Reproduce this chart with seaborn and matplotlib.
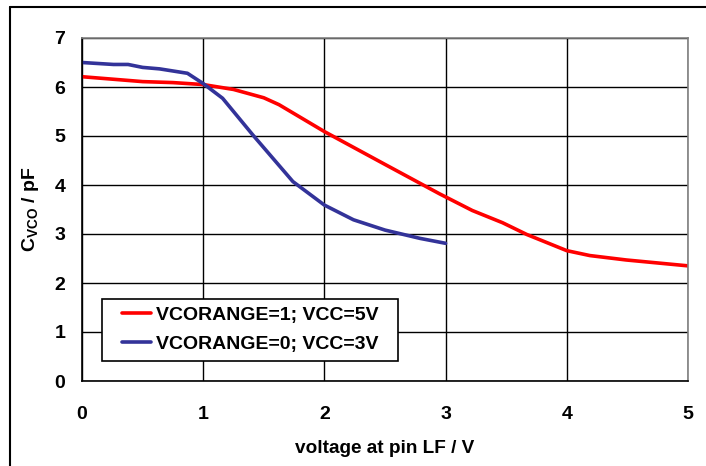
import matplotlib
matplotlib.use("Agg")
import matplotlib.pyplot as plt
from matplotlib.lines import Line2D
from matplotlib.legend_handler import HandlerLine2D
import seaborn as sns
import pandas as pd

# ---- data ----
red_label = "VCORANGE=1; VCC=5V"
blue_label = "VCORANGE=0; VCC=3V"

red_x = [0.0, 0.25, 0.5, 0.75, 1.0, 1.25, 1.5, 1.625, 2.0, 2.5, 2.95, 3.22, 3.47, 3.67, 4.0, 4.19, 4.49, 5.0]
red_y = [6.21, 6.16, 6.11, 6.09, 6.05, 5.95, 5.78, 5.64, 5.09, 4.42, 3.82, 3.48, 3.23, 2.99, 2.66, 2.56, 2.47, 2.35]

blue_x = [0.0, 0.26, 0.38, 0.5, 0.64, 0.87, 1.0, 1.16, 1.41, 1.74, 2.0, 2.24, 2.5, 2.79, 3.0]
blue_y = [6.50, 6.46, 6.46, 6.40, 6.37, 6.28, 6.07, 5.77, 5.02, 4.07, 3.59, 3.29, 3.08, 2.91, 2.81]

x_ticks = [0, 1, 2, 3, 4, 5]
y_ticks = [0, 1, 2, 3, 4, 5, 6, 7]

df = pd.concat([
    pd.DataFrame({"x": red_x, "y": red_y, "series": red_label}),
    pd.DataFrame({"x": blue_x, "y": blue_y, "series": blue_label}),
])

sns.set_theme(style="white")
plt.rcParams["font.family"] = ["Liberation Sans", "DejaVu Sans"]
plt.rcParams["mathtext.fontset"] = "custom"
plt.rcParams["mathtext.rm"] = "Liberation Sans:bold"
plt.rcParams["mathtext.bf"] = "Liberation Sans:bold"
plt.rcParams["text.color"] = "black"
plt.rcParams["axes.labelcolor"] = "black"
plt.rcParams["xtick.color"] = "black"
plt.rcParams["ytick.color"] = "black"

fig = plt.figure(figsize=(7.06, 4.66), dpi=100)
ax = fig.add_axes([82 / 706, 1 - 381 / 466, (688 - 82) / 706, (381 - 38) / 466])

sns.lineplot(data=df, x="x", y="y", hue="series", sort=False,
             palette={red_label: "#FF0000", blue_label: "#333399"},
             linewidth=2.6, ax=ax, legend=False)

ax.set_xlim(0, 5)
ax.set_ylim(0, 7)
ax.set_xticks(x_ticks)
ax.set_yticks(y_ticks)
ax.set_xticklabels([str(t) for t in x_ticks], fontsize=14, fontweight="bold")
ax.set_yticklabels([str(t) for t in y_ticks], fontsize=14, fontweight="bold")
ax.tick_params(axis="both", direction="out", length=5, width=1, color="black",
               labelcolor="black")
ax.tick_params(axis="y", pad=7)
ax.tick_params(axis="x", pad=13)

ax.grid(True, color="black", linewidth=1)
ax.set_axisbelow(True)
for s in ["left", "bottom"]:
    ax.spines[s].set_color("black")
    ax.spines[s].set_linewidth(1.2)
for s in ["right", "top"]:
    ax.spines[s].set_color("#808080")
    ax.spines[s].set_linewidth(1.2)

ax.set_xlabel("voltage at pin LF / V", fontsize=13.7, fontweight="bold",
              labelpad=12, color="black")
ax.set_ylabel(r"C$_{\mathrm{VCO}}$ / pF", fontsize=14, fontweight="bold",
              labelpad=10, color="black")


class OffsetLineHandler(HandlerLine2D):
    """Draw legend line starting a bit to the right of the handle box start."""
    def __init__(self, offset_pt, **kw):
        super().__init__(**kw)
        self.offset_pt = offset_pt

    def create_artists(self, legend, orig_handle, xdescent, ydescent, width,
                       height, fontsize, trans):
        artists = super().create_artists(legend, orig_handle, xdescent, ydescent,
                                         width, height, fontsize, trans)
        for a in artists:
            xd = list(a.get_xdata())
            if len(xd) >= 2:
                a.set_xdata([xd[0] + self.offset_pt, xd[-1]])
                a.set_ydata([a.get_ydata()[0]] * 2)
        return artists


handles = [Line2D([0], [0], color="#FF0000", lw=2.6),
           Line2D([0], [0], color="#333399", lw=2.6)]
leg = ax.legend(handles, [red_label, blue_label], loc="lower left",
                bbox_to_anchor=((102 - 82) / 606, (381 - 361) / 343,
                                (398 - 102) / 606, 0.0),
                mode="expand",
                prop={"family": "Liberation Sans", "weight": "bold", "size": 14},
                frameon=True, fancybox=False, shadow=False, framealpha=1,
                edgecolor="black", handlelength=2.1, borderaxespad=0,
                labelspacing=0.6, handletextpad=0.3, borderpad=0.4,
                handler_map={Line2D: OffsetLineHandler(offset_pt=8.6)})
leg.get_frame().set_linewidth(1.2)
for t in leg.get_texts():
    t.set_color("black")

# outer chart frame (left and top visible)
fx = 10 / 706
fy = 1 - 7 / 466
fig.add_artist(Line2D([fx, fx], [0, fy], transform=fig.transFigure, color="black", lw=1.5))
fig.add_artist(Line2D([fx, 1], [fy, fy], transform=fig.transFigure, color="black", lw=1.5))

fig.savefig("out.png", dpi=100, facecolor="white")
